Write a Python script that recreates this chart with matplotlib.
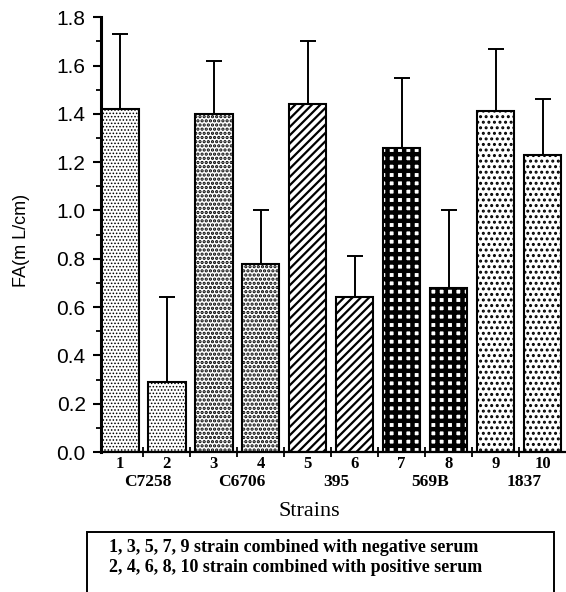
import numpy as np
import matplotlib
matplotlib.use("Agg")
import matplotlib.pyplot as plt
from matplotlib.patches import Rectangle

# ---- data ----
bar_labels = ["1", "2", "3", "4", "5", "6", "7", "8", "9", "10"]
strains = ["C7258", "C6706", "395", "569B", "1837"]
values = [1.42, 0.29, 1.40, 0.78, 1.44, 0.64, 1.26, 0.68, 1.41, 1.23]
upper_err = [0.31, 0.35, 0.22, 0.22, 0.26, 0.17, 0.29, 0.32, 0.26, 0.23]
y_ticks = [0.0, 0.2, 0.4, 0.6, 0.8, 1.0, 1.2, 1.4, 1.6, 1.8]
y_label = "FA(m L/cm)"
x_title = "Strains"
legend_lines = ["1, 3, 5, 7, 9 strain combined with negative serum",
                "2, 4, 6, 8, 10 strain combined with positive serum"]

# ---- style ----
W, H = 566, 592
fig = plt.figure(figsize=(W / 100, H / 100), dpi=100)
ax = fig.add_axes([101 / W, 1 - 452 / H, 465 / W, (452 - 17.3) / H])

x = np.arange(1, len(values) + 1)
hatches = [".....", ".....", "....", "....", "////", "////", "++", "++", "...", "..."]
hatch_lw = [0.7, 0.7, 1.6, 1.6, 1.6, 1.6, 3.2, 3.2, 1.4, 1.4]

bars = ax.bar(x, values, width=0.8, color="white", edgecolor="black",
              linewidth=1.5, zorder=2)
for b, h, lw in zip(bars, hatches, hatch_lw):
    b.set_hatch(h)
    if hasattr(b, "set_hatch_linewidth"):
        b.set_hatch_linewidth(lw)

ax.errorbar(x, values, yerr=[np.zeros(len(values)), upper_err], fmt="none",
            ecolor="black", elinewidth=1.4, capsize=6, capthick=1.4, zorder=1)

ax.set_xlim(0.6, 10.5)
ax.set_ylim(0, 1.8)

for s in ["top", "right"]:
    ax.spines[s].set_visible(False)
ax.spines["left"].set_linewidth(2.2)
ax.spines["bottom"].set_linewidth(1.6)

ax.set_yticks(y_ticks)
ax.set_yticklabels([f"{v:.1f}" for v in y_ticks], fontfamily="Liberation Sans",
                   fontsize=15)
ax.set_yticks(np.arange(0.1, 1.8, 0.2), minor=True)
ax.tick_params(axis="y", which="major", length=6, width=1.5, pad=5)
ax.tick_params(axis="y", which="minor", length=3.5, width=1.3)

ax.set_xticks(x)
ax.set_xticklabels(bar_labels, fontfamily="Liberation Serif", fontweight="bold",
                   fontsize=12)
ax.tick_params(axis="x", which="major", length=0, pad=3)
ax.set_xticks(x[:-1] + 0.5, minor=True)
ax.tick_params(axis="x", which="minor", length=7, width=1.3, direction="inout")

# strain names under pairs
for i, name in enumerate(strains):
    ax.text(x[2 * i] + 0.6, -0.068, name, transform=ax.get_xaxis_transform(),
            ha="center", va="center", fontfamily="Liberation Serif",
            fontweight="bold", fontsize=12.5)

fig.text(22 / W, 1 - 240 / H, y_label, rotation=90, ha="center", va="center",
         fontfamily="Liberation Sans", fontsize=13)
fig.text(309 / W, 1 - 512 / H, x_title, ha="center", va="center",
         fontfamily="Liberation Serif", fontsize=16)

# legend box (cut off at bottom)
fig.patches.append(Rectangle((86.7 / W, -0.05), (554 - 86.7) / W,
                             (1 - 532 / H) + 0.05, transform=fig.transFigure,
                             fill=False, edgecolor="black", linewidth=1.4))
for i, line in enumerate(legend_lines):
    fig.text(109 / W, 1 - (548 + 19 * i) / H, line, ha="left", va="center",
             fontfamily="Liberation Serif", fontweight="bold", fontsize=13)

fig.savefig("out.png", dpi=100)
